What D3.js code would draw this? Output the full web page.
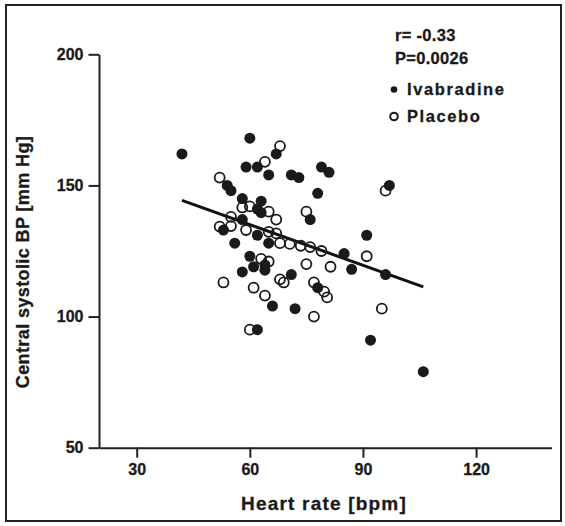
<!DOCTYPE html>
<html>
<head>
<meta charset="utf-8">
<script src="https://cdn.jsdelivr.net/npm/d3@7"></script>
<style>
  html, body { margin: 0; padding: 0; background: #fff; }
  svg text { font-family: "Liberation Sans", Arial, sans-serif; font-weight: bold; fill: #1a1a1a; stroke: #1a1a1a; stroke-width: 0.3px; }
</style>
</head>
<body>
<div id="chart"></div>
<script>
// Données
const ivaHR = [42, 60, 67, 59, 62, 65, 71, 73, 79, 81, 54, 55, 78, 97, 58, 63, 62, 63, 76, 58,
  53, 62, 56, 65, 60, 61, 64, 64, 58, 71, 78, 66, 72, 62, 85, 87, 96, 91, 92, 106];
const ivaBP = [162, 168, 162, 157, 157, 154, 154, 153, 157, 155, 150, 148, 147, 150, 145, 144, 141, 139.6, 137, 137,
  133, 131, 128, 128, 123, 119, 119.7, 117.7, 117, 116, 111, 104, 103, 95, 124, 118, 116, 131, 91, 79];

const plaHR = [68, 64, 52, 96, 58, 60, 65, 75, 67, 55, 52, 55, 59, 65, 67, 68, 70.6, 73.5, 76, 79,
  63, 65, 75, 81.4, 68, 69, 53, 77, 61, 79.7, 80.5, 64, 77, 60, 91, 95];
const plaBP = [165, 159, 153, 148, 141.6, 142, 140, 140, 137, 138, 134.3, 134.5, 133, 132.3, 131.7, 128, 127.7, 127, 126.5, 125,
  122, 121, 120, 119, 114.2, 113, 113, 113, 111, 109.5, 107.3, 108, 100, 95, 123, 103];

// droite de régression
const fitHR = [42, 106];
const fitBP = [144.3, 111.3];

const xTicks = [30, 60, 90, 120];
const yTicks = [50, 100, 150, 200];
const statLines = ["r= -0.33", "P=0.0026"];
const legendLabels = ["Ivabradine", "Placebo"];

const width = 565, height = 526;

const svg = d3.select("#chart")
  .append("svg")
  .attr("width", width)
  .attr("height", height);

// cadre
svg.append("rect")
  .attr("x", 6).attr("y", 5)
  .attr("width", 555).attr("height", 516)
  .attr("fill", "none")
  .attr("stroke", "#222")
  .attr("stroke-width", 2);

const xScale = d3.scaleLinear().domain([20, 140]).range([99, 551.5]);
const yScale = d3.scaleLinear().domain([50, 200]).range([447.7, 54.3]);

// Axe X
const xAxis = svg.append("g")
  .attr("transform", `translate(0,${yScale(50)})`)
  .call(d3.axisBottom(xScale).tickValues(xTicks).tickSize(10).tickSizeOuter(0).tickPadding(6));

// Axe Y
const yAxis = svg.append("g")
  .attr("transform", `translate(${xScale(20)},0)`)
  .call(d3.axisLeft(yScale).tickValues(yTicks).tickSize(10.5).tickSizeOuter(0).tickPadding(5));

[xAxis, yAxis].forEach(g => {
  g.selectAll("path, line").attr("stroke", "#222").attr("stroke-width", 2);
  g.selectAll("text")
    .style("font-size", "16px")
    .style("font-family", "'Liberation Sans', Arial, sans-serif")
    .style("font-weight", "bold")
    .attr("fill", "#1a1a1a");
});

// Titres des axes
svg.append("text")
  .attr("x", 324)
  .attr("y", 510)
  .attr("text-anchor", "middle")
  .style("font-size", "19px")
  .style("letter-spacing", "1.2px")
  .text("Heart rate [bpm]");

svg.append("text")
  .attr("transform", `translate(29,262) rotate(-90)`)
  .attr("text-anchor", "middle")
  .style("font-size", "18px")
  .style("letter-spacing", "0.4px")
  .text("Central systolic BP [mm Hg]");

// Droite de régression
svg.append("line")
  .attr("x1", xScale(fitHR[0])).attr("y1", yScale(fitBP[0]))
  .attr("x2", xScale(fitHR[1])).attr("y2", yScale(fitBP[1]))
  .attr("stroke", "#111")
  .attr("stroke-width", 3);

// Points placebo (cercles vides)
svg.append("g")
  .selectAll("circle")
  .data(plaHR.map((d, i) => [d, plaBP[i]]))
  .join("circle")
  .attr("cx", d => xScale(d[0]))
  .attr("cy", d => yScale(d[1]))
  .attr("r", 5)
  .attr("fill", "#fff")
  .attr("fill-opacity", 0)
  .attr("stroke", "#1a1a1a")
  .attr("stroke-width", 1.8);

// Points ivabradine (disques pleins)
svg.append("g")
  .selectAll("circle")
  .data(ivaHR.map((d, i) => [d, ivaBP[i]]))
  .join("circle")
  .attr("cx", d => xScale(d[0]))
  .attr("cy", d => yScale(d[1]))
  .attr("r", 5.5)
  .attr("fill", "#1a1a1a");

// Statistiques et légende
svg.selectAll(".stat")
  .data(statLines)
  .join("text")
  .attr("class", "stat")
  .attr("x", 395)
  .attr("y", (d, i) => 41 + i * 23)
  .style("font-size", "16.5px")
  .style("letter-spacing", "0.3px")
  .text(d => d);

const legend = svg.append("g").attr("transform", "translate(390,0)");
legend.append("circle")
  .attr("cx", 4).attr("cy", 89.5).attr("r", 3.3)
  .attr("fill", "#1a1a1a");
legend.append("circle")
  .attr("cx", 4).attr("cy", 116.5).attr("r", 3.8)
  .attr("fill", "none")
  .attr("stroke", "#1a1a1a")
  .attr("stroke-width", 2);
legend.selectAll(".leg")
  .data(legendLabels)
  .join("text")
  .attr("class", "leg")
  .attr("x", 17)
  .attr("y", (d, i) => 94.5 + i * 27.3)
  .style("font-size", "16.5px")
  .style("letter-spacing", "1.6px")
  .text(d => d);
</script>
</body>
</html>
